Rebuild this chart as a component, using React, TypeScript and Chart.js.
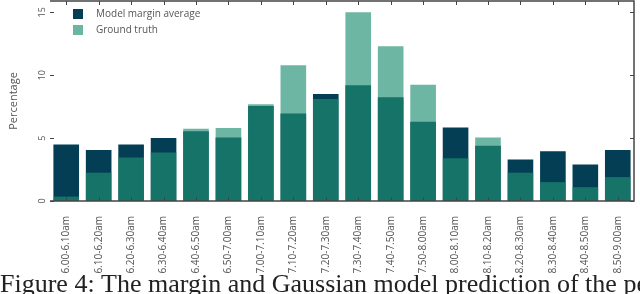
import { useEffect, useRef } from "react";
import { Chart, registerables } from "chart.js";

Chart.register(...registerables);

const categories = [
  "6.00-6.10am", "6.10-6.20am", "6.20-6.30am", "6.30-6.40am", "6.40-6.50am", "6.50-7.00am",
  "7.00-7.10am", "7.10-7.20am", "7.20-7.30am", "7.30-7.40am", "7.40-7.50am", "7.50-8.00am",
  "8.00-8.10am", "8.10-8.20am", "8.20-8.30am", "8.30-8.40am", "8.40-8.50am", "8.50-9.00am",
];
const modelMarginAverage = [4.5, 4.05, 4.5, 5.0, 5.55, 5.05, 7.55, 6.95, 8.5, 9.2, 8.25, 6.3, 5.85, 4.4, 3.3, 3.95, 2.9, 4.05];
const groundTruth = [0.35, 2.25, 3.45, 3.85, 5.75, 5.8, 7.7, 10.8, 8.1, 15.0, 12.3, 9.25, 3.4, 5.05, 2.25, 1.5, 1.1, 1.9];
const yTicks = [0, 5, 10, 15];
const seriesLabels = ["Model margin average", "Ground truth"];
const yTitle = "Percentage";
const caption = "Figure 4: The margin and Gaussian model prediction of the peak time";

const DARK = "rgb(3,62,84)";
const LIGHT = "rgba(30,143,115,0.655)";
const AXIS = "#444";
const TEXT = "#555";
const SANS = "'Open Sans', 'DejaVu Sans', sans-serif";

const decor = {
  id: "decor",
  afterDatasetsDraw(chart: any) {
    const { ctx, chartArea, scales } = chart;
    const { left, right, top, bottom } = chartArea;
    const x = scales.x;
    const y = scales.y;
    ctx.save();
    // spines
    ctx.strokeStyle = AXIS;
    ctx.lineWidth = 1.5;
    ctx.beginPath();
    ctx.moveTo(left, top);
    ctx.lineTo(right, top);
    ctx.lineTo(right, bottom);
    ctx.lineTo(left, bottom);
    ctx.stroke();
    // ticks
    ctx.lineWidth = 1;
    ctx.beginPath();
    categories.forEach((_, i) => {
      const px = Math.round(x.getPixelForValue(i)) + 0.5;
      ctx.moveTo(px, top);
      ctx.lineTo(px, top + 4);
      ctx.moveTo(px, bottom);
      ctx.lineTo(px, bottom - 4);
    });
    yTicks.forEach((v) => {
      const py = Math.round(y.getPixelForValue(v)) + 0.5;
      ctx.moveTo(left, py);
      ctx.lineTo(left + 4, py);
      ctx.moveTo(right, py);
      ctx.lineTo(right - 4, py);
    });
    ctx.stroke();
    // y tick labels (rotated)
    ctx.fillStyle = TEXT;
    ctx.font = `9px ${SANS}`;
    ctx.textAlign = "center";
    ctx.textBaseline = "middle";
    yTicks.forEach((v) => {
      const py = y.getPixelForValue(v);
      ctx.save();
      ctx.translate(left - 7.5, py);
      ctx.rotate(-Math.PI / 2);
      ctx.fillText(String(v), 0, 0);
      ctx.restore();
    });
    // legend
    const colors = ["rgb(3,62,84)", "rgb(107,181,162)"];
    ctx.font = `10px ${SANS}`;
    ctx.textAlign = "left";
    ctx.textBaseline = "middle";
    seriesLabels.forEach((lab, i) => {
      const ly = top + 8 + i * 16;
      ctx.fillStyle = colors[i];
      ctx.fillRect(left + 23, ly, 10, 10);
      ctx.fillStyle = TEXT;
      ctx.fillText(lab, left + 46, ly + 5.5);
    });
    // caption
    ctx.fillStyle = "#222";
    ctx.font = "26px 'Liberation Serif', serif";
    ctx.textAlign = "left";
    ctx.textBaseline = "alphabetic";
    ctx.fillText(caption, 0, 292);
    ctx.restore();
  },
};

export default function App() {
  const ref = useRef<HTMLCanvasElement | null>(null);
  useEffect(() => {
    document.body.style.margin = "0";
    const canvas = ref.current;
    if (!canvas) return;
    const chart = new Chart(canvas, {
      type: "bar",
      data: {
        labels: categories,
        datasets: [
          {
            label: seriesLabels[0],
            data: modelMarginAverage,
            backgroundColor: DARK,
            borderWidth: 0,
            grouped: false,
            order: 1,
            barPercentage: 0.79,
            categoryPercentage: 1,
          },
          {
            label: seriesLabels[1],
            data: groundTruth,
            backgroundColor: LIGHT,
            borderWidth: 0,
            grouped: false,
            order: 0,
            barPercentage: 0.79,
            categoryPercentage: 1,
          },
        ],
      },
      options: {
        animation: false,
        responsive: true,
        maintainAspectRatio: false,
        layout: { padding: { top: 1, right: 6, bottom: 0, left: 0 } },
        plugins: { legend: { display: false }, tooltip: { enabled: false } },
        scales: {
          x: {
            grid: { display: false },
            border: { display: false },
            ticks: {
              autoSkip: false,
              maxRotation: 90,
              minRotation: 90,
              padding: 7,
              color: TEXT,
              font: { family: SANS, size: 10 },
            },
            afterFit: (s: any) => {
              s.height = 93;
            },
          },
          y: {
            min: 0,
            max: 15.9,
            grid: { display: false },
            border: { display: false },
            ticks: { display: false },
            title: {
              display: true,
              text: yTitle,
              color: TEXT,
              font: { family: SANS, size: 11 },
              padding: { top: 7.5, bottom: 0 },
            },
            afterFit: (s: any) => {
              s.width = 50;
            },
          },
        },
      },
      plugins: [decor],
    });
    return () => chart.destroy();
  }, []);
  return (
    <div style={{ position: "fixed", left: 0, top: 0, width: 640, height: 294 }}>
      <canvas ref={ref} />
    </div>
  );
}
